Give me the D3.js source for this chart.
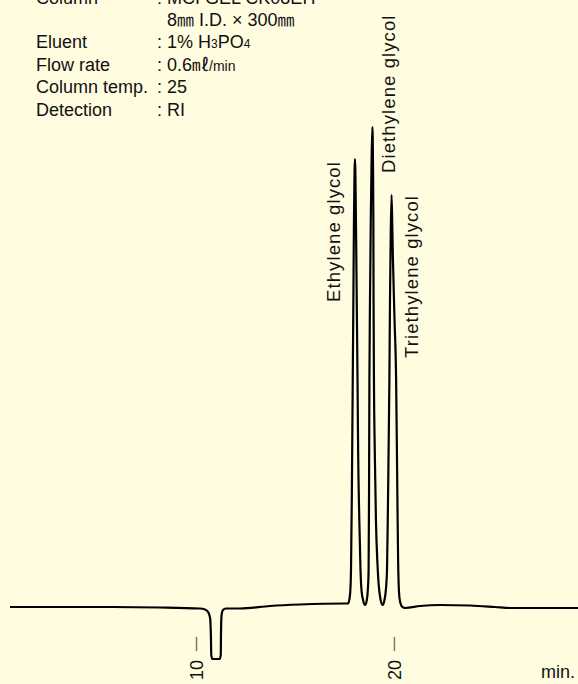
<!DOCTYPE html>
<html>
<head>
<meta charset="utf-8">
<script src="https://cdn.jsdelivr.net/npm/d3@7"></script>
<style>
    body { margin: 0; background: #fffce0; }
    svg { display: block; }
    text { font-family: "Liberation Sans", Arial, "Noto Sans CJK JP", sans-serif; fill: #111; }
</style>
</head>
<body>
<div id="chart"></div>
<script>
// retention time [min] and detector signal (arbitrary units, baseline = 0)
const timeMin = [
    0.60, 5.15, 8.18, 10.20, 10.45, 10.61, 10.71, 10.75, 10.77, 10.83, 11.19, 11.25, 11.26, 11.29, 11.36, 11.51, 12.22, 13.74, 15.25, 17.53,
    17.68, 17.76, 17.81, 17.83, 17.87, 17.91, 17.95, 17.98, 18.01, 18.03, 18.05, 18.08, 18.12, 18.16, 18.19, 18.25, 18.31, 18.36, 18.44, 18.54,
    18.63, 18.68, 18.72, 18.74, 18.76, 18.79, 18.83, 18.87, 18.91, 18.94, 18.96, 18.97, 18.99, 19.03, 19.09, 19.17, 19.23, 19.31, 19.43,
    19.52, 19.60, 19.65, 19.70, 19.77, 19.80, 19.84, 19.88, 19.92, 19.95, 20.03, 20.11, 20.16, 20.21, 20.24, 20.28, 20.36, 20.43, 20.56,
    21.32, 22.33, 23.84, 25.11, 25.87, 29.30
];
const signal = [
    0, 0, -0.5, -1.5, -2.5, -5, -11, -28, -48, -52, -52, -48, -28, -8, -3, -1.5, -1.5, 1, 2.5, 3.5,
    3.5, 9, 22, 37, 107, 207, 307, 387, 437, 448, 437, 387, 307, 227, 157, 87, 37, 17, 7, 2,
    7, 17, 37, 107, 227, 307, 387, 447, 480, 447, 387, 307, 227, 157, 87, 42, 22, 9, 2,
    7, 19, 37, 107, 227, 307, 377, 412, 377, 347, 287, 227, 137, 47, 22, 9, 2, 0, -1,
    1, 2, 1.5, 0, -1, -1
];

// peaks
const peakNames = ["Ethylene glycol", "Diethylene glycol", "Triethylene glycol"];
const peakTimes = [18.03, 18.91, 19.88];

// axis
const tickValues = [10, 20];
const axisUnit = "min.";

// conditions
const condLabels = ["Column", "", "Eluent", "Flow rate", "Column temp.", "Detection"];
const condValues = [
    [{ t: ": MCI GEL CK08EH" }],
    [{ t: "8" }, { t: "㎜", cjk: true }, { t: " I.D. × 300" }, { t: "㎜", cjk: true }],
    [{ t: ": 1% H" }, { t: "3", sub: true }, { t: "PO" }, { t: "4", sub: true }],
    [{ t: ": 0.6" }, { t: "㎖", cjk: true }, { t: "/", small: true }, { t: "min", small: true }],
    [{ t: ": 25" }],
    [{ t: ": RI" }]
];

const width = 578;
const height = 684;

const svg = d3.select("#chart")
    .append("svg")
    .attr("width", width)
    .attr("height", height)
    .attr("viewBox", `0 0 ${width} ${height}`);

svg.append("rect")
    .attr("width", width)
    .attr("height", height)
    .attr("fill", "#fffce0");

///////////////////// SCALES /////////////////////
const xScale = d3.scaleLinear()
    .domain([0.6, 29.3])
    .range([10, 578]);

const yScale = d3.scaleLinear()
    .domain([0, 480])
    .range([607, 127]);

///////////////////// TRACE /////////////////////
const line = d3.line()
    .x((d, i) => xScale(timeMin[i]))
    .y(d => yScale(d))
    .curve(d3.curveMonotoneX);

svg.append("path")
    .datum(signal)
    .attr("d", line)
    .attr("fill", "none")
    .attr("stroke", "#000")
    .attr("stroke-width", 2.2)
    .attr("stroke-linejoin", "round");

///////////////////// PEAK LABELS /////////////////////
const labelDx = [-15, 23, 26.5];
const labelY = [302, 173, 358];

svg.selectAll(".peak-label")
    .data(peakNames)
    .join("text")
    .attr("class", "peak-label")
    .attr("transform", (d, i) => `translate(${xScale(peakTimes[i]) + labelDx[i]},${labelY[i]}) rotate(-90)`)
    .style("font-size", "18.5px")
    .style("letter-spacing", "1.1px")
    .text(d => d);

///////////////////// AXIS /////////////////////
const xAxis = d3.axisBottom(xScale)
    .tickValues(tickValues)
    .tickSize(14)
    .tickFormat(d3.format("d"));

const axisG = svg.append("g")
    .attr("transform", "translate(0,637)")
    .call(xAxis);

axisG.select(".domain").remove();
axisG.selectAll(".tick line")
    .attr("stroke", "#777")
    .attr("stroke-width", 1.5);
axisG.selectAll(".tick text")
    .attr("x", -23)
    .attr("y", 0)
    .attr("dy", "0.35em")
    .attr("transform", "rotate(-90)")
    .style("text-anchor", "end")
    .style("font-size", "18px")
    .attr("fill", "#111");

svg.append("text")
    .attr("x", 541)
    .attr("y", 678)
    .style("font-size", "18px")
    .text(axisUnit);

///////////////////// CONDITIONS /////////////////////
const rowY = d3.scaleLinear().domain([0, 1]).range([3.5, 25.9]);

const cond = svg.append("g");

cond.selectAll(".cond-label")
    .data(condLabels)
    .join("text")
    .attr("class", "cond-label")
    .attr("x", 36)
    .attr("y", (d, i) => rowY(i))
    .style("font-size", "18px")
    .text(d => d);

condValues.forEach((segs, i) => {
    const startsColon = segs[0].t.startsWith(":");
    const t = cond.append("text")
        .attr("x", startsColon ? 157 : 167)
        .attr("y", rowY(i))
        .style("font-size", "18px");
    segs.forEach(s => {
        const ts = t.append("tspan").text(s.t);
        if (s.sub) ts.style("font-size", "12px");
        if (s.small) ts.style("font-size", "14px");
        if (s.cjk) ts.style("font-family", "'Noto Sans CJK JP', sans-serif").style("font-size", "17px");
    });
});
</script>
</body>
</html>
